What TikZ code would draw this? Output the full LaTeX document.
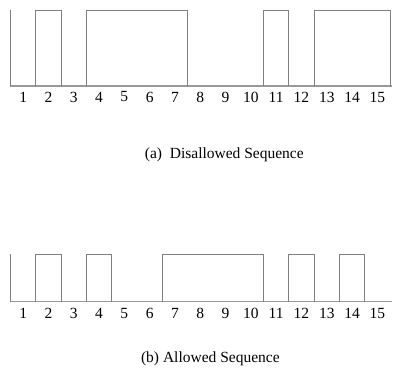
\documentclass[tikz,border=0pt]{standalone}
\usepackage{fontspec}
\setmainfont{Liberation Serif}
\usepackage{tikz}
\usetikzlibrary{positioning}

\begin{document}
\begin{tikzpicture}[
  x=20.24pt, y=-0.8pt,
  % --- Lines ---
  wave/.style={draw=black!50, line width=0.75pt},
  axisline/.style={draw=black!40, line width=0.9pt},
  % --- Text ---
  slotlbl/.style={font=\fontsize{12.4}{14}\selectfont, inner sep=0pt},
  caplbl/.style={font=\fontsize{12.4}{14}\selectfont, inner sep=0pt},
]
\useasboundingbox (-0.415,0) rectangle (15.474,377);

% ============ (a) DISALLOWED SEQUENCE ============
\draw[axisline] (0,86) -- (15.07,86);
\draw[wave] (0,10) -- (0,86);
\foreach \from/\to in {1/2, 3/7, 10/11, 12/15}
  \draw[wave] (\from,86) -- (\from,10) -- (\to,10) -- (\to,86);

\foreach \i in {1,...,15}
  \node[slotlbl] (a\i) at (\i-0.5,97) {\i};

\node[caplbl] (capA) at (8.45,155) {(a)\ \ Disallowed Sequence};

% ============== (b) ALLOWED SEQUENCE ==============
\draw[axisline] (0,301.7) -- (15.07,301.7);
\draw[wave] (0,254) -- (0,301.7);
\foreach \from/\to in {1/2, 3/4, 6/10, 11/12, 13/14}
  \draw[wave] (\from,301.7) -- (\from,254) -- (\to,254) -- (\to,301.7);

\foreach \i in {1,...,15}
  \node[slotlbl] (b\i) at (\i-0.5,313) {\i};

\node[caplbl] (capB) at (7.9,359) {(b) Allowed Sequence};

\end{tikzpicture}
\end{document}
